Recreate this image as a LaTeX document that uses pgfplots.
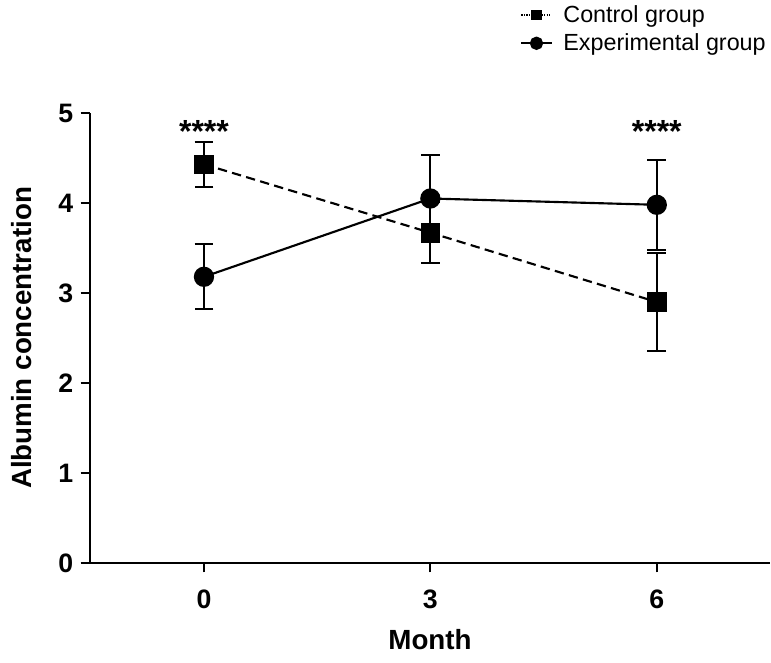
\documentclass[border=0pt]{standalone}
\usepackage{pgfplots}
\pgfplotsset{compat=1.18}
\usepackage{fontspec}
\setmainfont{Liberation Sans}
\begin{document}
\begin{tikzpicture}[x=1pt,y=1pt]
\path[use as bounding box] (-68.25pt,-73.5pt) rectangle (510pt,423.75pt);
\begin{axis}[
  at={(-0.75pt,1.5pt)}, anchor=south west,
  scale only axis,
  width=510pt, height=337.5pt,
  xmin=-1.51, xmax=7.5, ymin=0, ymax=5,
  axis x line=bottom, axis y line=left,
  axis line style={line width=1.6pt, -},
  xtick={0,3,6}, ytick={0,1,2,3,4,5},
  tick style={line width=1.6pt, black},
  tick align=outside, major tick length=7pt,
  /pgf/number format/assume math mode=true,
  ticklabel style={font=\fontsize{20}{20}\selectfont\bfseries},
  xticklabel style={yshift=-10pt},
  yticklabel style={xshift=-2pt},
  xlabel={Month}, ylabel={Albumin concentration},
  label style={font=\fontsize{20.8}{21}\selectfont\bfseries},
  xlabel style={yshift=-8pt},
  ylabel style={yshift=13pt},
  legend style={draw=none, fill=none, at={(1,1)}, anchor=south east, yshift=41pt, xshift=2pt,
    font=\fontsize{17.5}{19}\selectfont, row sep=3pt, column sep=6pt, cells={anchor=west}},
  legend cell align=left,
  legend image code/.code={
    \draw[#1, mark repeat=2, mark phase=2] plot coordinates {(0cm,0cm) (0.4cm,0cm) (0.8cm,0cm)};
  },
  clip=false,
]
\addlegendimage{densely dotted, line width=0.9pt, mark=square*, mark size=3.6pt, mark options={solid}}
\addlegendentry{Control group}
\addlegendimage{solid, line width=1.6pt, mark=*, mark size=4.2pt}
\addlegendentry{Experimental group}

\addplot[forget plot, black, line width=1.6pt, dash pattern=on 7pt off 4pt,
  mark=square*, mark size=6.5pt, mark options={solid},
  error bars/.cd, y dir=both, y explicit,
  error bar style={line width=1.6pt, solid},
  error mark options={rotate=90, mark size=7pt, line width=1.6pt, solid}]
coordinates {
 (0,4.43) +- (0,0.25)
 (3,3.67) +- (0,0.34)
 (6,2.90) +- (0,0.54)
};
\addplot[forget plot, black, line width=1.6pt, solid,
  mark=*, mark size=6.8pt,
  error bars/.cd, y dir=both, y explicit,
  error bar style={line width=1.6pt, solid},
  error mark options={rotate=90, mark size=7pt, line width=1.6pt, solid}]
coordinates {
 (0,3.18) +- (0,0.36)
 (3,4.05) +- (0,0.48)
 (6,3.98) +- (0,0.50)
};
\node[font=\fontsize{24}{24}\selectfont\bfseries] at (axis cs:0,4.80) {****};
\node[font=\fontsize{24}{24}\selectfont\bfseries] at (axis cs:6,4.80) {****};
\end{axis}
\end{tikzpicture}
\end{document}
